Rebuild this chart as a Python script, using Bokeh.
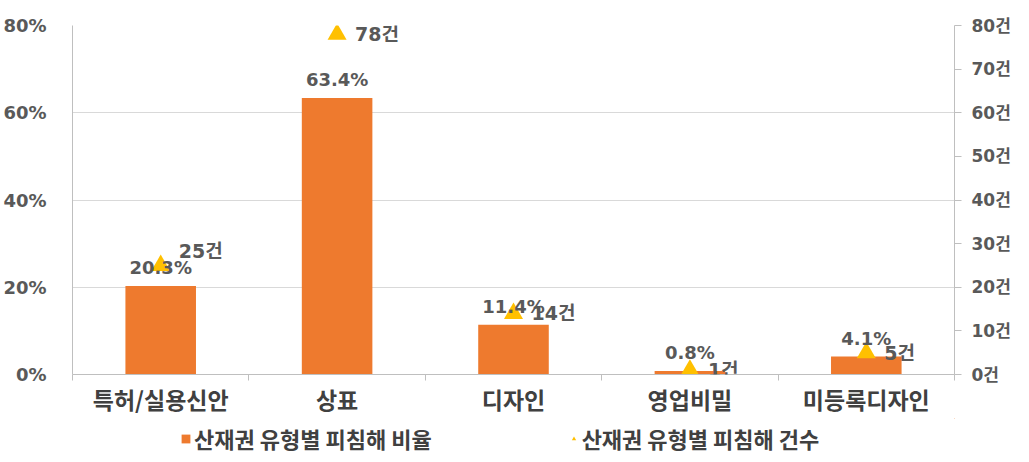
from bokeh.plotting import figure
from bokeh.layouts import column
from bokeh.models import (ColumnDataSource, Range1d, LinearAxis, FixedTicker,
                          PrintfTickFormatter, Legend, LegendItem, LabelSet)
from bokeh.core.properties import value
from bokeh.embed import file_html
from bokeh.resources import INLINE

# ---- data ----
categories = ["특허/실용신안", "상표", "디자인", "영업비밀", "미등록디자인"]
ratio_pct = [20.3, 63.4, 11.4, 0.8, 4.1]
counts = [25, 78, 14, 1, 5]
ratio_name = "산재권 유형별 피침해 비율"
count_name = "산재권 유형별 피침해 건수"
left_ticks = [0, 20, 40, 60, 80]
right_ticks = [0, 10, 20, 30, 40, 50, 60, 70, 80]

# ---- styling ----
NUM_FONT = "DejaVu Sans, Noto Sans CJK KR"
KR_FONT = "Noto Sans CJK KR"
LABEL_COLOR = "#595959"
BAR_COLOR = "#EE7A2E"
TRI_COLOR = "#FFC000"
count_label_dy = [14, 0, 0, 0, 0]  # manual label nudges (pixels)

idx = list(range(len(categories)))
src = ColumnDataSource(dict(
    x=idx, pct=ratio_pct, cnt=counts,
    pct_txt=[f"{v}%" for v in ratio_pct],
    cnt_txt=[f"{c}건" for c in counts],
    dy=count_label_dy,
))

p = figure(width=1013, height=418, output_backend="svg", toolbar_location=None,
           x_range=Range1d(-0.5, len(categories) - 0.5), y_range=Range1d(0, 80),
           min_border_left=69, min_border_right=51, min_border_top=25,
           min_border_bottom=43, outline_line_color=None,
           background_fill_color="white", border_fill_color="white")
p.extra_y_ranges = {"cnt": Range1d(0, 80)}

# axes
p.xaxis.visible = False
p.yaxis.visible = False
p.xgrid.visible = False
p.ygrid.ticker = FixedTicker(ticks=left_ticks)
p.ygrid.grid_line_color = "#d9d9d9"

xa = LinearAxis(ticker=FixedTicker(ticks=idx, minor_ticks=[i - 0.5 for i in idx] + [len(idx) - 0.5]),
                major_label_overrides={i: c for i, c in zip(idx, categories)})
xa.axis_line_color = "#bfbfbf"
xa.major_tick_line_color = None
xa.minor_tick_line_color = "#bfbfbf"
xa.minor_tick_out = 6
xa.minor_tick_in = 0
xa.major_label_text_font = KR_FONT
xa.major_label_text_font_size = "23px"
xa.major_label_text_font_style = "bold"
xa.major_label_text_color = "#404040"
xa.major_label_standoff = 1
p.add_layout(xa, "below")

ya = LinearAxis(ticker=FixedTicker(ticks=left_ticks), formatter=PrintfTickFormatter(format="%d%%"))
ya.axis_line_color = "#bfbfbf"
ya.major_tick_line_color = None
ya.minor_tick_line_color = None
ya.major_label_text_font = NUM_FONT
ya.major_label_text_font_size = "18px"
ya.major_label_text_font_style = "bold"
ya.major_label_text_color = LABEL_COLOR
ya.major_label_standoff = 20
p.add_layout(ya, "left")

ya2 = LinearAxis(y_range_name="cnt", ticker=FixedTicker(ticks=right_ticks),
                 formatter=PrintfTickFormatter(format="%d건"))
ya2.axis_line_color = "#bfbfbf"
ya2.major_tick_line_color = "#bfbfbf"
ya2.major_tick_out = 7
ya2.major_tick_in = 0
ya2.minor_tick_line_color = None
ya2.major_label_text_font = NUM_FONT
ya2.major_label_text_font_size = "17px"
ya2.major_label_text_font_style = "bold"
ya2.major_label_text_color = LABEL_COLOR
ya2.major_label_standoff = 10
p.add_layout(ya2, "right")

# glyphs
bars = p.vbar(x="x", top="pct", width=0.4, source=src, fill_color=BAR_COLOR,
              line_color=None)
tris = p.scatter(x="x", y="cnt", y_range_name="cnt", source=src, marker="triangle",
                 size=19, fill_color=TRI_COLOR, line_color=None)

pct_labels = LabelSet(x="x", y="pct", text="pct_txt", source=src, text_align="center",
                      text_baseline="bottom", y_offset=8, text_font=value(NUM_FONT),
                      text_font_size="18px", text_font_style="bold", text_color=LABEL_COLOR)
p.add_layout(pct_labels)
cnt_labels = LabelSet(x="x", y="cnt", y_range_name="cnt", text="cnt_txt", source=src,
                      text_align="left", text_baseline="middle", x_offset=18, y_offset="dy",
                      text_font=value(NUM_FONT), text_font_size="19px",
                      text_font_style="bold", text_color=LABEL_COLOR)
p.add_layout(cnt_labels)

# ---- legend strip (separate small figure below the chart) ----
# The same data is drawn here, but the view ranges keep the marks out of sight;
# these renderers only supply the legend swatches.
lg = figure(width=1013, height=36, output_backend="svg", toolbar_location=None,
            x_range=Range1d(-200, -199), y_range=Range1d(-200, -199),
            min_border_left=0, min_border_right=0, min_border_top=0, min_border_bottom=0,
            outline_line_color=None, background_fill_color="white",
            border_fill_color="white")
lg.axis.visible = False
lg.grid.visible = False
lg_bar = lg.vbar(x="x", top="pct", width=0.4, source=src, fill_color=BAR_COLOR,
                 line_color=None)
lg_tri = lg.scatter(x="x", y="cnt", source=src, marker="triangle", size=12,
                    fill_color=TRI_COLOR, line_color=None)
legend = Legend(items=[LegendItem(label=ratio_name, renderers=[lg_bar]),
                       LegendItem(label=count_name, renderers=[lg_tri])],
                orientation="horizontal", location=(108, 0), spacing=136,
                glyph_width=11, glyph_height=11, label_standoff=3,
                label_text_font=KR_FONT, label_text_font_size="22px",
                label_text_font_style="bold", label_text_color="#404040",
                border_line_color=None, background_fill_alpha=0,
                padding=4, margin=0)
lg.add_layout(legend, "center")

layout = column(p, lg, spacing=0)
open("out.html", "w").write(file_html(layout, INLINE))
